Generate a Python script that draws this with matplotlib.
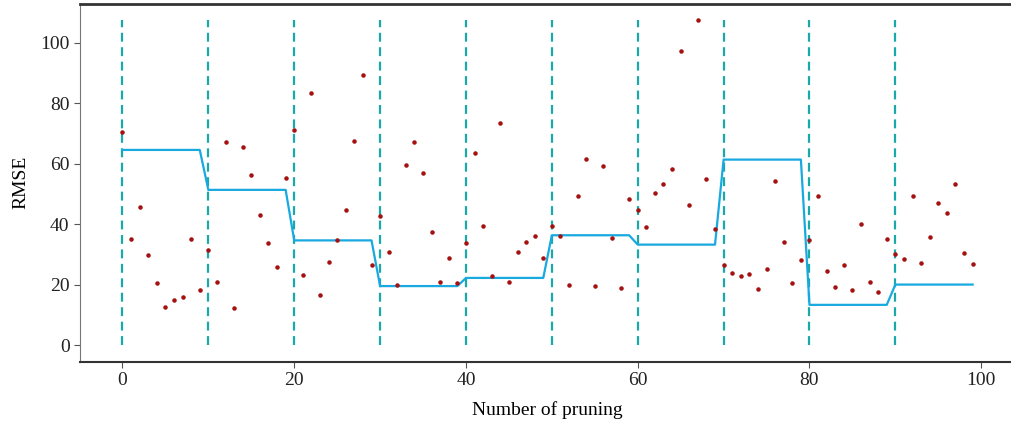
import numpy as np
import matplotlib
matplotlib.use('Agg')
import matplotlib.pyplot as plt

#-------------------------------------------------------------------------#
# Data                                                                    #
#-------------------------------------------------------------------------#
rmse = [70.5, 35.0, 45.8, 30.0, 20.7, 12.8, 14.9, 16.1, 35.3, 18.2,
        31.5, 21.1, 67.2, 12.3, 65.5, 56.3, 43.2, 33.8, 25.9, 55.2,
        71.1, 23.2, 83.3, 16.6, 27.6, 34.7, 44.8, 67.6, 89.5, 26.5,
        42.9, 30.9, 19.8, 59.7, 67.3, 56.9, 37.5, 20.9, 29.0, 20.7,
        34.0, 63.7, 39.5, 22.9, 73.5, 20.8, 30.9, 34.2, 36.0, 29.0,
        39.6, 36.2, 20.1, 49.5, 61.5, 19.5, 59.4, 35.6, 19.0, 48.4,
        44.7, 39.2, 50.2, 53.5, 58.2, 97.3, 46.4, 107.5, 55.1, 38.5,
        26.7, 24.0, 22.8, 23.5, 18.7, 25.2, 54.4, 34.2, 20.5, 28.3,
        34.9, 49.3, 24.5, 19.4, 26.6, 18.3, 40.2, 21.1, 17.5, 35.2,
        30.3, 28.4, 49.3, 27.2, 35.7, 47.1, 43.8, 53.5, 30.6, 26.8]
block_level = [64.6, 51.4, 34.7, 19.6, 22.3, 36.4, 33.3, 61.4, 13.4, 20.1]
block_size  = 10

n       = len(rmse)
x       = np.arange(n)
level   = np.repeat(block_level, block_size)
starts  = np.arange(0, n, block_size)

#-------------------------------------------------------------------------#
# Plot                                                                    #
#-------------------------------------------------------------------------#
plt.rcParams['font.family'] = 'Liberation Serif'
plt.rcParams['font.size']   = 14

fig = plt.figure(figsize=(10.11, 4.28), dpi=100)
ax  = fig.add_axes([0.0791, 0.155, 0.925, 0.836])

ax.vlines(starts, 0, max(rmse), colors='#1aa8a8', linestyles=(0, (4, 2.5)),
          linewidth=1.6, zorder=1)
ax.plot(x, level, color='#18a9e0', linewidth=1.6, zorder=2)
ax.scatter(x, rmse, s=5, color='#a51111', zorder=3)

ax.set_xticks(np.arange(0, 101, 20))
ax.set_yticks(np.arange(0, 101, 20))
ax.set_xlabel('Number of pruning', labelpad=9)
ax.set_ylabel('RMSE', labelpad=8)

ax.spines['top'].set_linewidth(2.0)
ax.spines['top'].set_color('#333333')
ax.spines['left'].set_color('#777777')
ax.spines['bottom'].set_color('#333333')
ax.spines['bottom'].set_linewidth(1.5)
ax.tick_params(colors='#555555', labelcolor='#222222', length=4)

fig.savefig('out.png', dpi=100)
